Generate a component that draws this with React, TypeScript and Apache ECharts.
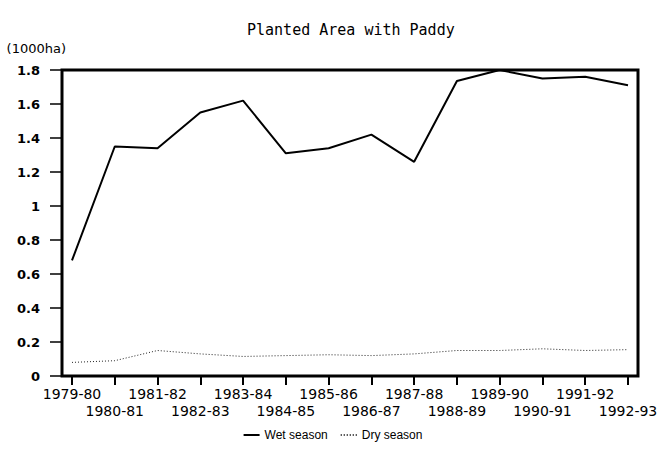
import React, { useEffect, useRef } from "react";
import * as echarts from "echarts";

const categories = [
  "1979-80", "1980-81", "1981-82", "1982-83", "1983-84", "1984-85", "1985-86",
  "1986-87", "1987-88", "1988-89", "1989-90", "1990-91", "1991-92", "1992-93",
];
const wetSeason = [0.68, 1.35, 1.34, 1.55, 1.62, 1.31, 1.34, 1.42, 1.26, 1.735, 1.8, 1.75, 1.76, 1.71];
const drySeason = [0.08, 0.09, 0.15, 0.13, 0.115, 0.12, 0.125, 0.12, 0.13, 0.15, 0.15, 0.16, 0.15, 0.155];

const FONT = "DejaVu Sans";

export default function App() {
  const ref = useRef<HTMLDivElement>(null);
  useEffect(() => {
    if (!ref.current) return;
    const chart = echarts.init(ref.current, null, { renderer: "svg" });
    chart.setOption({
      animation: false,
      backgroundColor: "#ffffff",
      title: {
        text: "Planted Area with Paddy",
        left: 242,
        top: 17,
        textStyle: { fontFamily: "DejaVu Sans Mono", fontSize: 15, fontWeight: "normal", color: "#000" },
      },
      legend: {
        top: 424,
        left: "center",
        itemWidth: 16,
        itemHeight: 8,
        itemGap: 12,
        itemStyle: { opacity: 0 },
        textStyle: { fontFamily: "Liberation Sans", fontSize: 12, color: "#000" },
        data: ["Wet season", "Dry season"],
      },
      grid: [
        { left: 72, right: 37, top: 70, bottom: 90 },
        {
          left: 62,
          right: 27,
          top: 70,
          bottom: 90,
          show: true,
          borderColor: "#000",
          borderWidth: 3,
          backgroundColor: "transparent",
        },
      ],
      xAxis: [
        {
          type: "category",
          gridIndex: 0,
          data: categories,
          boundaryGap: false,
          splitLine: { show: false },
          axisLine: { show: false },
          axisTick: {
            show: true,
            interval: 0,
            length: 9,
            lineStyle: { color: "#000", width: 2 },
          },
          axisLabel: {
            interval: 0,
            margin: 9,
            fontFamily: FONT,
            fontSize: 14,
            color: "#000",
            lineHeight: 17,
            formatter: (v: string, i: number) => (i % 2 === 1 ? "\n" + v : v),
          },
        },
        { type: "value", gridIndex: 1, show: false, min: 0, max: 1 },
      ],
      yAxis: [
        {
          type: "value",
          gridIndex: 0,
          min: 0,
          max: 1.8,
          interval: 0.2,
          offset: 10,
          name: "(1000ha)",
          nameLocation: "end",
          nameGap: 15,
          nameTextStyle: {
            fontFamily: FONT,
            fontSize: 13,
            color: "#000",
            align: "right",
            padding: [0, -4, 0, 0],
          },
          splitLine: { show: false },
          axisLine: { show: false },
          axisTick: { show: true, length: 12, lineStyle: { color: "#000", width: 1.5 } },
          axisLabel: {
            margin: 22,
            fontFamily: FONT,
            fontSize: 13,
            fontWeight: "bold",
            color: "#000",
          },
        },
        { type: "value", gridIndex: 1, show: false, min: 0, max: 1 },
      ],
      series: [
        {
          name: "Wet season",
          type: "line",
          symbol: "none",
          xAxisIndex: 0,
          yAxisIndex: 0,
          data: wetSeason,
          lineStyle: { color: "#000", width: 2 },
          itemStyle: { color: "#000" },
        },
        {
          name: "Dry season",
          type: "line",
          symbol: "none",
          xAxisIndex: 0,
          yAxisIndex: 0,
          data: drySeason,
          lineStyle: { color: "#222", width: 1, type: [1, 2] },
          itemStyle: { color: "#222" },
        },
      ],
    });
    return () => chart.dispose();
  }, []);
  return <div ref={ref} style={{ width: 665, height: 466, position: "absolute", left: 0, top: 0 }} />;
}
